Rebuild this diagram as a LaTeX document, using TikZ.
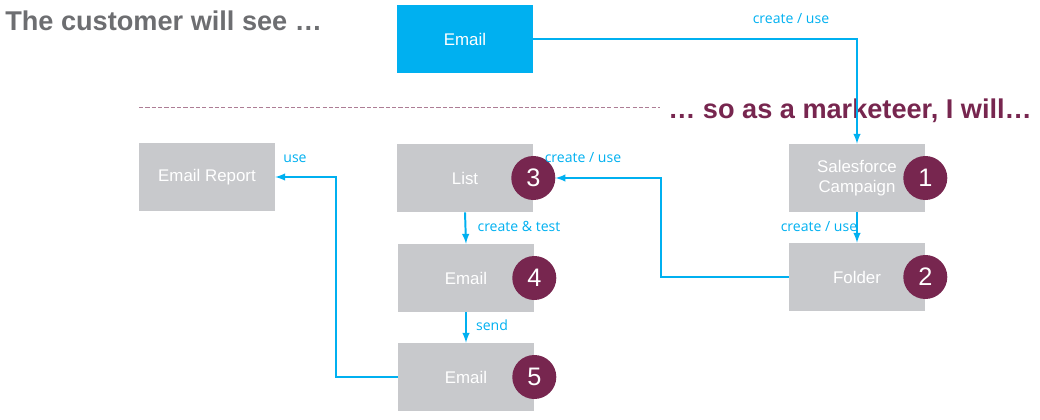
\documentclass[tikz,border=0pt]{standalone}
\usepackage{fontspec}
\setmainfont{Liberation Sans}
\newfontfamily\lblfont{Open Sans}
\definecolor{sfcyan}{HTML}{00B0F0}
\definecolor{boxgray}{HTML}{C8C9CC}
\definecolor{plum}{HTML}{77264F}
\definecolor{titlegray}{HTML}{6D6E71}
\begin{document}
\begin{tikzpicture}[>=latex,x=0.025cm,y=-0.025cm,
    box/.style={fill=boxgray,minimum width=3.4cm,minimum height=1.7cm,text=white,font=\fontsize{12}{14}\selectfont,align=center,inner sep=0pt},
    num/.style={circle,fill=plum,minimum size=1.1cm,inner sep=0pt,text=white,font=\fontsize{18}{20}\selectfont},
    lbl/.style={text=sfcyan,font=\lblfont\fontsize{10}{11}\selectfont,inner sep=0pt},
    flow/.style={->,draw=sfcyan,line width=1.4pt}]
    \useasboundingbox (0,0) rectangle (1040,420);
    % headings
    \node[anchor=west,text=titlegray,font=\bfseries\fontsize{19.3}{22}\selectfont,inner sep=0pt] (see) at (5,21) {The customer will see …};
    \node[anchor=west,text=plum,font=\bfseries\fontsize{19.3}{22}\selectfont,inner sep=0pt] (will) at (668,111) {… so as a marketeer, I will…};
    \coordinate (dl) at (139,107);
    \coordinate (dr) at (660,107);
    \draw[plum!60,line width=0.6pt,dash pattern=on 3pt off 1.5pt] (dl) -- (dr);
    % boxes
    \node[box,fill=sfcyan] (mail) at (465,39) {Email};
    \node[box] (report) at (207,177) {Email Report};
    \node[box] (list) at (465,178) {List};
    \node[box] (mail4) at (466,278) {Email};
    \node[box] (mail5) at (466,377) {Email};
    \node[box] (sfc) at (857,178) {Salesforce\\Campaign};
    \node[box] (folder) at (857,277) {Folder};
    % step numbers
    \node[num] (n1) at (sfc.east) {1};
    \node[num] (n2) at (folder.east) {2};
    \node[num] (n3) at (list.east) {3};
    \node[num] (n4) at (mail4.east) {4};
    \node[num] (n5) at (mail5.east) {5};
    % connectors
    \draw[flow] (mail.east) -| (sfc.north);
    \draw[flow] (sfc.south) -- (folder.north);
    \draw[flow] (folder.west) -- ++(-128,0) |- (n3.east);
    \draw[flow] (list.south) -- (mail4.north);
    \draw[flow] (mail4.south) -- (mail5.north);
    \draw[flow] (mail5.west) -- ++(-62,0) |- (report.east);
    % labels
    \node[lbl] (l1) at (791,19) {create / use};
    \node[lbl] (l2) at (819,227) {create / use};
    \node[lbl] (l3) at (583,158) {create / use};
    \node[lbl] (l4) at (519,226) {create \& test};
    \node[lbl] (l5) at (492,325) {send};
    \node[lbl] (l6) at (295,159) {use};
\end{tikzpicture}
\end{document}
